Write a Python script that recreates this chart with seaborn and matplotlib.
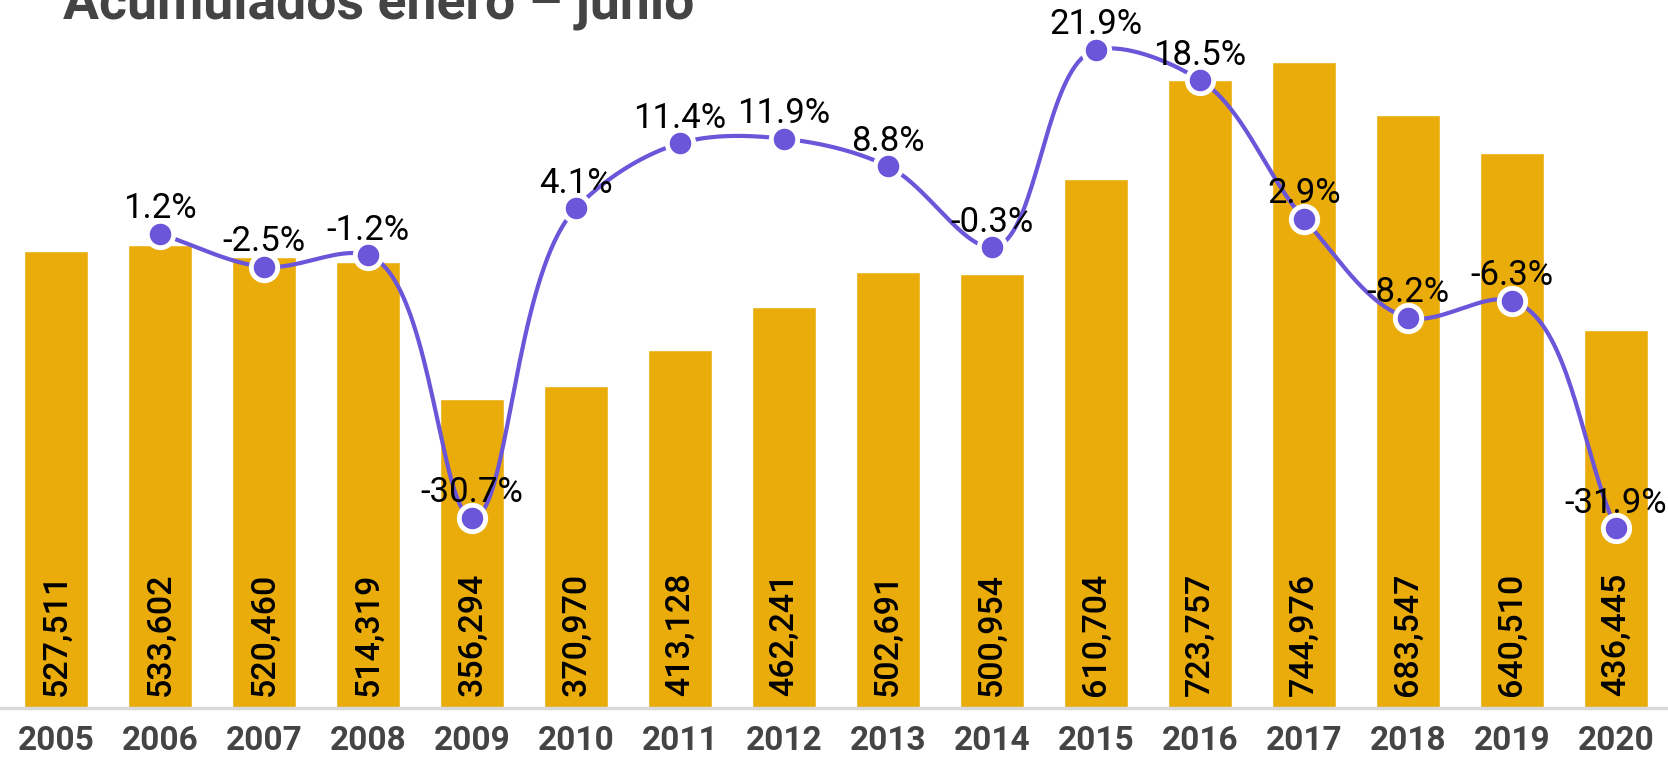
"""Acumulados enero - junio: volume bars with smoothed yearly change line."""

import matplotlib.pyplot as plt
import numpy as np
import pandas as pd
import seaborn as sns

years = [str(y) for y in range(2005, 2021)]
volumes = [527511, 533602, 520460, 514319, 356294, 370970, 413128, 462241,
           502691, 500954, 610704, 723757, 744976, 683547, 640510, 436445]
change_pct = [np.nan, 1.2, -2.5, -1.2, -30.7, 4.1, 11.4, 11.9,
              8.8, -0.3, 21.9, 18.5, 2.9, -8.2, -6.3, -31.9]

BAR_COLOR = "#EAAC0B"
LINE_COLOR = "#6B55D9"
TEXT_GRAY = "#444444"

sns.set_theme(style="white")
plt.rcParams["font.family"] = ["Roboto", "DejaVu Sans"]


def smooth_curve(pts, alpha=0.8, steps=40):
    """Non-uniform Catmull-Rom through pts (given in display pixels)."""
    pts = np.asarray(pts, dtype=float)
    padded = np.vstack([2 * pts[0] - pts[1], pts, 2 * pts[-1] - pts[-2]])
    out = []
    for i in range(1, len(padded) - 2):
        p0, p1, p2, p3 = padded[i - 1], padded[i], padded[i + 1], padded[i + 2]
        d01 = np.linalg.norm(p1 - p0) ** alpha
        d12 = np.linalg.norm(p2 - p1) ** alpha
        d23 = np.linalg.norm(p3 - p2) ** alpha
        m1 = d12 * ((p1 - p0) / d01 - (p2 - p0) / (d01 + d12) + (p2 - p1) / d12)
        m2 = d12 * ((p2 - p1) / d12 - (p3 - p1) / (d12 + d23) + (p3 - p2) / d23)
        c1, c2 = p1 + m1 / 3, p2 - m2 / 3
        t = np.linspace(0, 1, steps)[:, None]
        seg = (1 - t) ** 3 * p1 + 3 * (1 - t) ** 2 * t * c1 + 3 * (1 - t) * t ** 2 * c2 + t ** 3 * p2
        out.append(seg if i == 1 else seg[1:])
    return np.vstack(out)


df = pd.DataFrame({"year": years, "volume": volumes, "pct": change_pct})

fig = plt.figure(figsize=(16.68, 7.59), dpi=100)
ax = fig.add_axes([0, 1 - 708 / 759, 1, 708 / 759])

sns.barplot(data=df, x="year", y="volume", color=BAR_COLOR, saturation=1,
            width=0.62, ax=ax)
ax.set_xlim(-0.54, 15.5)
ax.set_ylim(0, 816600)
ax.set_xlabel("")
ax.set_ylabel("")
ax.set_yticks([])
for side in ["top", "left", "right"]:
    ax.spines[side].set_visible(False)
ax.spines["bottom"].set_color("#D9D9D9")
ax.spines["bottom"].set_linewidth(2.5)
ax.tick_params(axis="x", length=0, pad=12, labelsize=24, labelcolor=TEXT_GRAY)
for lab in ax.get_xticklabels():
    lab.set_fontweight("bold")

for i, v in enumerate(volumes):
    ax.annotate(f"{v:,}", xy=(i, 0), xytext=(0, 9), textcoords="offset points",
                rotation=90, ha="center", va="bottom", fontsize=24.5,
                fontweight="medium", color="black")

ax2 = ax.twinx()
ax2.set_ylim(-52.1, 27.5)
ax2.set_yticks([])
for side in ax2.spines:
    ax2.spines[side].set_visible(False)

line = df.dropna(subset=["pct"])
xs = line.index.to_numpy(dtype=float)
ys = line["pct"].to_numpy()
disp = ax2.transData.transform(np.column_stack([xs, ys]))
curve = ax2.transData.inverted().transform(smooth_curve(disp))
ax2.plot(curve[:, 0], curve[:, 1], color=LINE_COLOR, lw=3, zorder=3)
for x, p in zip(xs, ys):
    ax2.annotate(f"{p:.1f}%", xy=(x, p), xytext=(0, 18), textcoords="offset points",
                 ha="center", va="center", fontsize=25, color="black", zorder=4)
ax2.plot(xs, ys, ls="none", marker="o", ms=19, mfc=LINE_COLOR,
         mec="white", mew=3.5, zorder=5)

fig.text(0.038, 1 - 18 / 759, "Acumulados enero – junio", ha="left", va="baseline",
         fontsize=38.5, fontweight="bold", color=TEXT_GRAY)

fig.savefig("out.png", dpi=100)
